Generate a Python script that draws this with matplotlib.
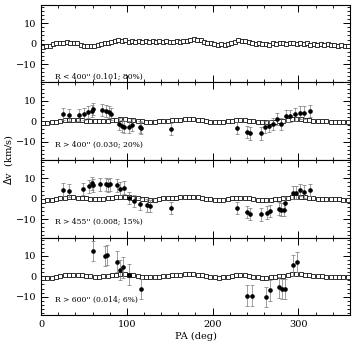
import numpy as np
import matplotlib
matplotlib.use('Agg')
import matplotlib.pyplot as plt
from matplotlib.ticker import MultipleLocator

plt.rcParams['font.family'] = ['DejaVu Serif']

# panel 1: inner points (R < 400")
pa_inner = np.arange(2, 360, 4)
dv_inner = [-1.8, -1.2, -1.0, -0.4, 0.2,
            0.5, 0.2, 0.6, 0.3, 0.4,
            0.1, -0.6, -1.0, -1.4, -1.2,
            -1.1, -0.8, -0.2, 0.3, 0.2,
            0.6, 1.2, 1.6, 1.3, 1.8,
            1.0, 1.4, 0.8, 1.5, 1.0,
            1.2, 0.7, 1.3, 0.9, 1.1,
            0.8, 1.4, 1.0, 0.6, 1.2,
            0.9, 1.3, 1.5, 1.9, 2.2,
            1.8, 1.6, 1.0, 0.5, 0.1,
            -0.3, -0.6, -0.4, -0.8, -0.2,
            0.4, 1.0, 1.6, 1.4, 1.3,
            0.6, 0.2, -0.1, 0.3, -0.3,
            0.0, -0.5, 0.2, -0.2, 0.4,
            0.1, -0.3, 0.5, 0.2, -0.2,
            0.3, -0.4, 0.1, -0.6, -0.2,
            -0.5, 0.0, -0.7, -0.4, -0.9,
            -0.6, -1.1, -0.8, -1.3, -1.0]

# reference curve (open squares) in panels 2-4
pa_ref = np.arange(2.5, 360, 5)
dv_ref = [-1.0, -0.8, -0.6, -0.3, 0.2, 0.6, 0.8, 0.8,
          0.6, 0.4, 0.2, 0.0, -0.1, -0.1, 0.1, 0.3,
          0.6, 0.8, 1.0, 1.0, 0.8, 0.5, 0.2, -0.1,
          -0.3, -0.5, -0.4, -0.1, 0.2, 0.3, 0.5, 0.6,
          0.8, 0.9, 1.0, 0.9, 0.7, 0.4, 0.1, -0.2,
          -0.5, -0.6, -0.4, -0.1, 0.2, 0.4, 0.5, 0.4,
          0.2, -0.1, -0.4, -0.6, -0.6, -0.5, -0.3, 0.0,
          0.3, 0.6, 0.9, 1.0, 0.9, 0.7, 0.5, 0.3,
          0.1, 0.0, -0.1, -0.2, -0.3, -0.3, -0.4, -0.5]

# panel 2: R > 400"
pa_400 = [26, 32, 44, 50, 55, 59, 61, 71, 76, 79, 81, 91, 94, 97, 102, 106, 115, 117,
          152, 228, 240, 244, 256, 261, 266, 270, 275, 280, 285, 290, 296, 302, 306, 314]
dv_400 = [3.7, 3.0, 3.0, 3.5, 4.5, 5.0, 6.0, 5.5, 5.0, 4.5, 3.5, -1.5, -2.3, -3.0, -2.8, -1.8, -3.0, -3.5,
          -3.8, -3.2, -5.4, -6.0, -6.0, -3.0, -2.5, -1.5, 1.0, -1.5, 2.7, 2.7, 3.3, 4.2, 4.2, 5.0]
err_400 = 3.0

# panel 3: R > 455"
pa_455 = [26, 32, 49, 56, 59, 61, 69, 76, 78, 80, 89, 92, 97, 103, 108, 115, 123, 127,
          152, 228, 240, 244, 256, 263, 267, 277, 280, 283, 284, 294, 297, 302, 307, 314]
dv_455 = [4.5, 4.0, 4.7, 6.0, 7.5, 6.5, 7.0, 7.0, 6.5, 7.0, 6.5, 5.0, 5.5, 0.5, -1.2, -2.7, -3.3, -3.6,
          -4.5, -4.4, -6.6, -7.5, -7.7, -6.8, -5.9, -4.8, -5.3, -5.3, -2.3, 3.0, 3.0, 4.2, 3.5, 4.4]
err_455 = 3.0

# panel 4: R > 600"
pa_600 = [60, 75, 77, 89, 92, 96, 103, 116, 240, 246, 262, 267, 277, 281, 284, 294, 298]
dv_600 = [12.4, 9.9, 10.5, 7.2, 3.2, 4.4, 0.8, -6.3, -9.5, -9.5, -10.0, -6.9, -5.4, -6.2, -6.2, 5.3, 6.9]
err_600 = 5.0

labels = ["R < 400'' (0.101; 80%)", "R > 400'' (0.030; 20%)",
          "R > 455'' (0.008; 15%)", "R > 600'' (0.014; 6%)"]
label_y = [0.08, 0.2, 0.2, 0.2]

fig, axes = plt.subplots(4, 1, figsize=(3.57, 3.47), dpi=100, sharex=True)
fig.subplots_adjust(left=0.115, right=0.980, top=0.986, bottom=0.092, hspace=0)

sq = dict(marker='s', ls='none', ms=2.5, mfc='white', mec='#111111', mew=0.6)

axes[0].plot(pa_inner, dv_inner, **sq)
for ax, pa, dv, err in zip(axes[1:], [pa_400, pa_455, pa_600], [dv_400, dv_455, dv_600],
                           [err_400, err_455, err_600]):
    ax.plot(pa_ref, dv_ref, **sq)
    ax.errorbar(pa, dv, yerr=err, fmt='o', ms=2.3, color='black',
                ecolor='#777777', elinewidth=0.5, capsize=1.5, capthick=0.5, zorder=4)

for ax, lab, ly in zip(axes, labels, label_y):
    ax.set_xlim(0, 360)
    ax.set_ylim(-19, 19)
    ax.xaxis.set_major_locator(MultipleLocator(100))
    ax.xaxis.set_minor_locator(MultipleLocator(20))
    ax.yaxis.set_major_locator(MultipleLocator(10))
    ax.yaxis.set_minor_locator(MultipleLocator(2))
    ax.tick_params(which='both', direction='in', top=True, right=True, labelsize=7)
    ax.tick_params(which='major', length=5, width=0.7)
    ax.tick_params(which='minor', length=2.5, width=0.6)
    for s in ax.spines.values():
        s.set_linewidth(0.8)
    ax.text(0.045, ly, lab, transform=ax.transAxes, fontsize=5.5, va='center')

axes[-1].set_xlabel('PA (deg)', fontsize=7, labelpad=2)
fig.text(0.025, 0.54, r'$\Delta$v  (km/s)', rotation=90, fontsize=7,
         ha='center', va='center')

fig.savefig('out.png', dpi=100)
